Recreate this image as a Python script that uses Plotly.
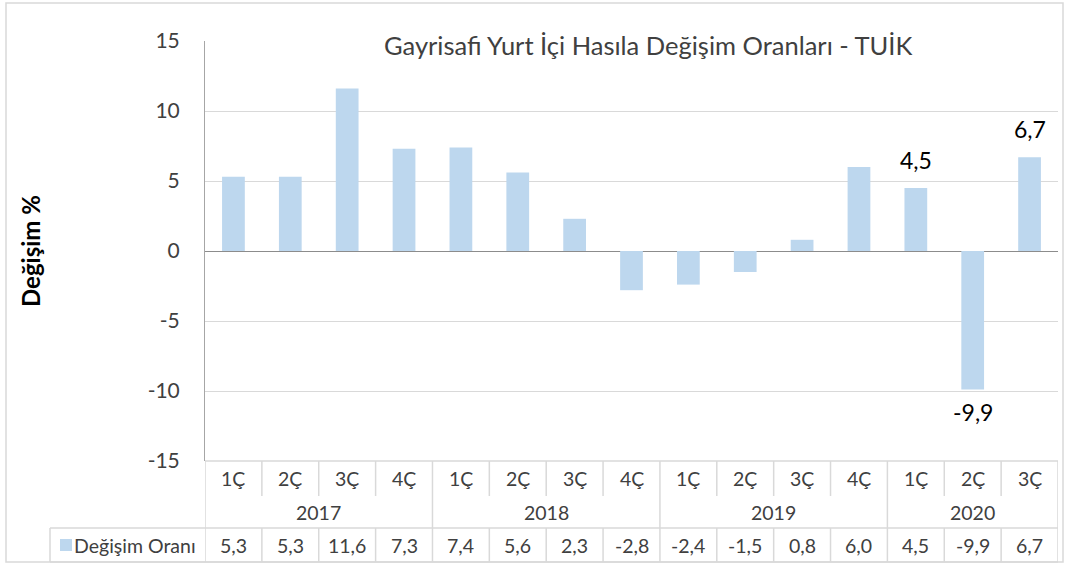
import plotly.graph_objects as go

# ---- data ----
years = ["2017", "2018", "2019", "2020"]
quarters = ["1Ç", "2Ç", "3Ç", "4Ç", "1Ç", "2Ç", "3Ç", "4Ç", "1Ç", "2Ç", "3Ç", "4Ç", "1Ç", "2Ç", "3Ç"]
quarter_year = ["2017"] * 4 + ["2018"] * 4 + ["2019"] * 4 + ["2020"] * 3
values = [5.3, 5.3, 11.6, 7.3, 7.4, 5.6, 2.3, -2.8, -2.4, -1.5, 0.8, 6.0, 4.5, -9.9, 6.7]
labelled = [12, 13, 14]  # indices of bars with data labels
y_ticks = [-15, -10, -5, 0, 5, 10, 15]
series_name = "Değişim Oranı"
title = "Gayrisafi Yurt İçi Hasıla Değişim Oranları - TUİK"
y_title = "Değişim %"

W, H = 1069, 565
FONT = "Lato"
BAR = "#BDD7EE"
TXT = "#404040"
GRID = "#d9d9d9"


def px(x):
    return x / W


def py(y):
    return 1 - y / H


def fmt(v):
    return f"{v:.1f}".replace(".", ",")


n = len(values)
xs = list(range(n))

fig = go.Figure()
fig.add_trace(go.Bar(x=xs, y=values, width=0.4, marker=dict(color=BAR, line=dict(width=0)),
                     name=series_name, showlegend=False, hoverinfo="skip"))

PLOT_L, PLOT_R, PLOT_T, PLOT_B = 205, 1058, 41, 461
ROW1_B, ROW2_B, ROW3_B = 496, 528, 562

fig.update_layout(
    width=W, height=H, autosize=False,
    margin=dict(l=0, r=0, t=0, b=0, pad=0),
    paper_bgcolor="white", plot_bgcolor="white",
    font=dict(family=FONT, color=TXT),
    xaxis=dict(domain=[px(PLOT_L), px(PLOT_R)], range=[-0.5, n - 0.5], showticklabels=False,
               showgrid=False, zeroline=False, showline=False, ticks="", automargin=False, fixedrange=True),
    yaxis=dict(domain=[py(PLOT_B), py(PLOT_T)], range=[-15, 15], tickvals=y_ticks,
               ticktext=[str(t) for t in y_ticks], showgrid=True,
               gridcolor=GRID, gridwidth=1, zeroline=True, zerolinecolor="#8c8c8c", zerolinewidth=1,
               showline=True, linecolor="#a6a6a6", linewidth=1, ticks="", automargin=False,
               ticklabelstandoff=20, tickfont=dict(family=FONT, size=21, color=TXT), fixedrange=True),
)

shapes = []
# chart outer border
shapes.append(dict(type="rect", xref="paper", yref="paper", x0=px(6), x1=px(1063), y0=py(562), y1=py(3),
                   line=dict(color=GRID, width=1.5), layer="below"))
# table lines
tl = dict(color=GRID, width=1.5)
shapes.append(dict(type="line", xref="x", yref="paper", x0=-0.5, x1=n - 0.5, y0=py(PLOT_B), y1=py(PLOT_B), line=tl))
for i in range(n + 1):
    shapes.append(dict(type="line", xref="x", yref="paper", x0=i - 0.5, x1=i - 0.5,
                       y0=py(ROW1_B), y1=py(PLOT_B), line=tl))
    shapes.append(dict(type="line", xref="x", yref="paper", x0=i - 0.5, x1=i - 0.5,
                       y0=py(ROW3_B), y1=py(ROW2_B), line=tl))
# year boundaries
bounds = [-0.5]
for k in range(1, n):
    if quarter_year[k] != quarter_year[k - 1]:
        bounds.append(k - 0.5)
bounds.append(n - 0.5)
for b in bounds:
    shapes.append(dict(type="line", xref="x", yref="paper", x0=b, x1=b, y0=py(ROW2_B), y1=py(ROW1_B), line=tl))
# data row horizontal borders + legend cell
for yy in (ROW2_B, ROW3_B):
    shapes.append(dict(type="line", xref="paper", yref="paper", x0=px(50), x1=px(PLOT_R), y0=py(yy), y1=py(yy), line=tl))
shapes.append(dict(type="line", xref="paper", yref="paper", x0=px(50), x1=px(50), y0=py(ROW3_B), y1=py(ROW2_B), line=tl))
# legend key
shapes.append(dict(type="rect", xref="paper", yref="paper", x0=px(60), x1=px(72), y0=py(551), y1=py(539),
                   fillcolor=BAR, line=dict(width=0)))

ann = []
TF = dict(size=19.5, color=TXT, family=FONT)
C = dict(xanchor="center", yanchor="middle", showarrow=False)
for i in range(n):
    ann.append(dict(x=i, y=py((PLOT_B + ROW1_B) / 2), xref="x", yref="paper", text=quarters[i], font=TF, **C))
    ann.append(dict(x=i, y=py((ROW2_B + ROW3_B) / 2), xref="x", yref="paper", text=fmt(values[i]), font=TF, **C))
for yr in years:
    idx = [k for k in range(n) if quarter_year[k] == yr]
    ann.append(dict(x=(idx[0] + idx[-1]) / 2, y=py((ROW1_B + ROW2_B) / 2), xref="x", yref="paper", text=yr,
                    font=TF, **C))
ann.append(dict(x=px(198), y=py(545), xref="paper", yref="paper", xanchor="right", yanchor="middle",
                text=series_name, showarrow=False, font=TF))
# data labels
for i in labelled:
    v = values[i]
    ann.append(dict(x=i, y=v, xref="x", yref="y", text=fmt(v), yshift=28 if v >= 0 else -22,
                    font=dict(size=23, color="#000000", family=FONT), **C))
# title
ann.append(dict(x=px(648), y=py(45), xref="paper", yref="paper", text=title,
                bgcolor="white", borderpad=0, font=dict(size=25.5, color=TXT, family=FONT), **C))
# y-axis title
ann.append(dict(x=px(30), y=py(251), xref="paper", yref="paper", text="<b>" + y_title + "</b>",
                textangle=-90, font=dict(size=24, color="#000000", family=FONT), **C))

fig.update_layout(shapes=shapes, annotations=ann)
fig.write_html("out.html", config={"displayModeBar": False},
               post_script="document.body.style.margin='0';document.body.style.overflow='hidden';")
